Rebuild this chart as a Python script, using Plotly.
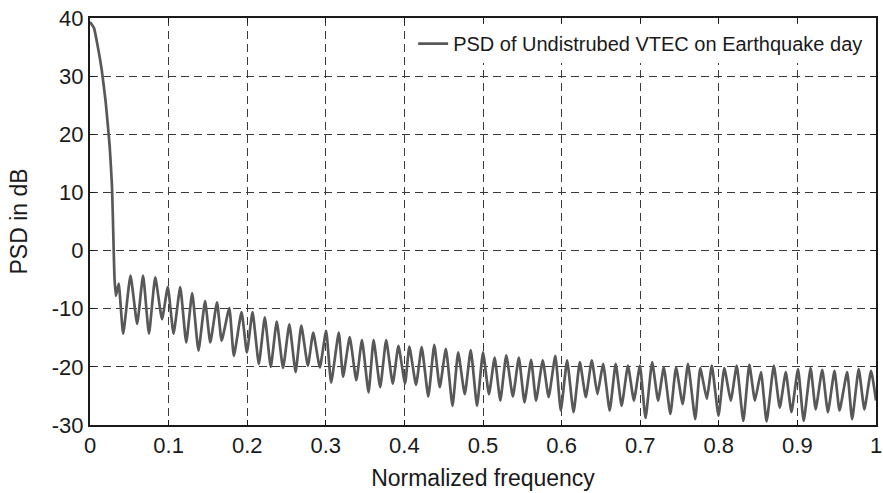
import plotly.graph_objects as go

# Normalized frequency (x) and PSD in dB (y)
freq = [0.0, 0.005, 0.01, 0.015, 0.02, 0.025, 0.028, 0.0298, 0.0312, 0.033, 0.0365,
        0.0422, 0.0515, 0.060, 0.0675, 0.075, 0.083, 0.0916, 0.099, 0.1063, 0.1148,
        0.1224, 0.130, 0.138, 0.1464, 0.153, 0.1616, 0.1675, 0.1772, 0.183, 0.1928,
        0.1996, 0.2068, 0.2148, 0.2224, 0.230, 0.2376, 0.2456, 0.2536, 0.2616, 0.2688,
        0.2772, 0.284, 0.2924, 0.3004, 0.3068, 0.3165, 0.322, 0.3304, 0.3388, 0.346,
        0.3544, 0.3608, 0.3692, 0.3768, 0.3852, 0.3924, 0.4008, 0.4063, 0.4148, 0.422,
        0.4304, 0.438, 0.445, 0.4528, 0.4612, 0.4684, 0.4768, 0.4844, 0.4924, 0.500,
        0.5076, 0.5148, 0.522, 0.5296, 0.538, 0.5456, 0.5528, 0.5612, 0.5675, 0.576,
        0.5835, 0.592, 0.599, 0.607, 0.6152, 0.6232, 0.6308, 0.6384, 0.6456, 0.6528,
        0.6612, 0.6688, 0.6764, 0.6844, 0.692, 0.6996, 0.7068, 0.7152, 0.7228, 0.730,
        0.7384, 0.7456, 0.754, 0.7608, 0.770, 0.7764, 0.7848, 0.7911, 0.7996, 0.807,
        0.8152, 0.8228, 0.8312, 0.8388, 0.846, 0.8536, 0.8608, 0.870, 0.8776, 0.8852,
        0.8924, 0.9008, 0.908, 0.9168, 0.9232, 0.9316, 0.9388, 0.9472, 0.9536, 0.9633,
        0.9696, 0.978, 0.9852, 0.9937, 1.0]

psd_db = [39.3, 38.3, 35.0, 31.0, 25.5, 18.0, 11.0, 2.0, -4.8, -7.8, -5.7,
          -14.3, -4.3, -12.6, -4.3, -14.3, -4.6, -11.8, -6.3, -14.3, -6.3,
          -15.8, -7.3, -17.2, -8.7, -15.8, -8.9, -15.5, -9.9, -18.1, -10.6,
          -17.5, -10.6, -19.5, -11.5, -20.0, -12.2, -20.2, -12.7, -20.9, -12.9,
          -19.8, -14.1, -20.1, -13.8, -22.7, -14.1, -21.7, -14.9, -22.3, -15.4,
          -24.4, -15.4, -23.5, -15.4, -22.9, -16.4, -22.9, -16.5, -23.1, -16.6,
          -25.1, -16.2, -23.5, -16.9, -26.7, -17.5, -24.7, -17.1, -26.7, -17.5,
          -24.7, -18.4, -25.8, -18.0, -25.1, -18.4, -26.1, -18.8, -25.8, -18.9,
          -25.2, -18.1, -27.5, -18.9, -27.8, -19.2, -25.2, -18.9, -24.7, -19.5,
          -27.5, -19.5, -26.7, -19.8, -25.8, -19.8, -28.8, -19.2, -25.8, -20.1,
          -28.1, -20.1, -26.4, -19.5, -29.0, -20.2, -25.5, -19.8, -28.4, -20.2,
          -25.8, -19.8, -29.3, -19.6, -25.8, -20.9, -29.4, -19.8, -27.0, -20.9,
          -27.8, -20.4, -29.3, -20.2, -27.3, -20.5, -27.8, -20.7, -27.5, -20.9,
          -29.0, -20.4, -27.3, -20.7, -25.8]

x_ticks = [0, 0.1, 0.2, 0.3, 0.4, 0.5, 0.6, 0.7, 0.8, 0.9, 1]
x_tick_labels = ["0", "0.1", "0.2", "0.3", "0.4", "0.5", "0.6", "0.7", "0.8", "0.9", "1"]
y_ticks = [-30, -20, -10, 0, 10, 20, 30, 40]
y_tick_labels = ["-30", "-20", "-10", "0", "10", "20", "30", "40"]

FONT = "Liberation Sans, Arial, sans-serif"
INK = "#1a1a1a"

fig = go.Figure()
fig.add_trace(go.Scatter(
    x=freq, y=psd_db, mode="lines",
    name="PSD of Undistrubed VTEC on Earthquake day",
    line=dict(color="#585858", width=2.7, shape="spline", smoothing=0.45),
))

axis_common = dict(
    showline=True, linecolor=INK, linewidth=2, mirror="ticks",
    ticks="inside", ticklen=5, tickcolor=INK, tickwidth=1,
    showgrid=True, gridcolor="#3a3a3a", gridwidth=1, griddash="8px,5px",
    zeroline=False, automargin=False, ticklabeloverflow="allow",
    tickfont=dict(size=22, color=INK, family=FONT),
)

fig.update_xaxes(range=[0, 1], tickvals=x_ticks, ticktext=x_tick_labels,
                 title=dict(text="Normalized frequency", standoff=12,
                            font=dict(size=23, color=INK, family=FONT)),
                 **axis_common)
fig.update_yaxes(range=[-30, 40], tickvals=y_ticks, ticktext=y_tick_labels,
                 title=dict(text="PSD in dB", standoff=18,
                            font=dict(size=23, color=INK, family=FONT)),
                 **axis_common)

fig.update_layout(
    width=883, height=493,
    margin=dict(l=90, r=7, t=18, b=68),
    paper_bgcolor="white", plot_bgcolor="white",
    showlegend=True,
    legend=dict(x=0.99, y=0.985, xanchor="right", yanchor="top",
                bgcolor="white", borderwidth=0,
                font=dict(size=20, color=INK, family=FONT)),
    font=dict(family=FONT),
)

fig.write_html(
    "out.html",
    config={"displayModeBar": False},
    post_script="document.body.style.margin='0';document.body.style.padding='0';",
)
